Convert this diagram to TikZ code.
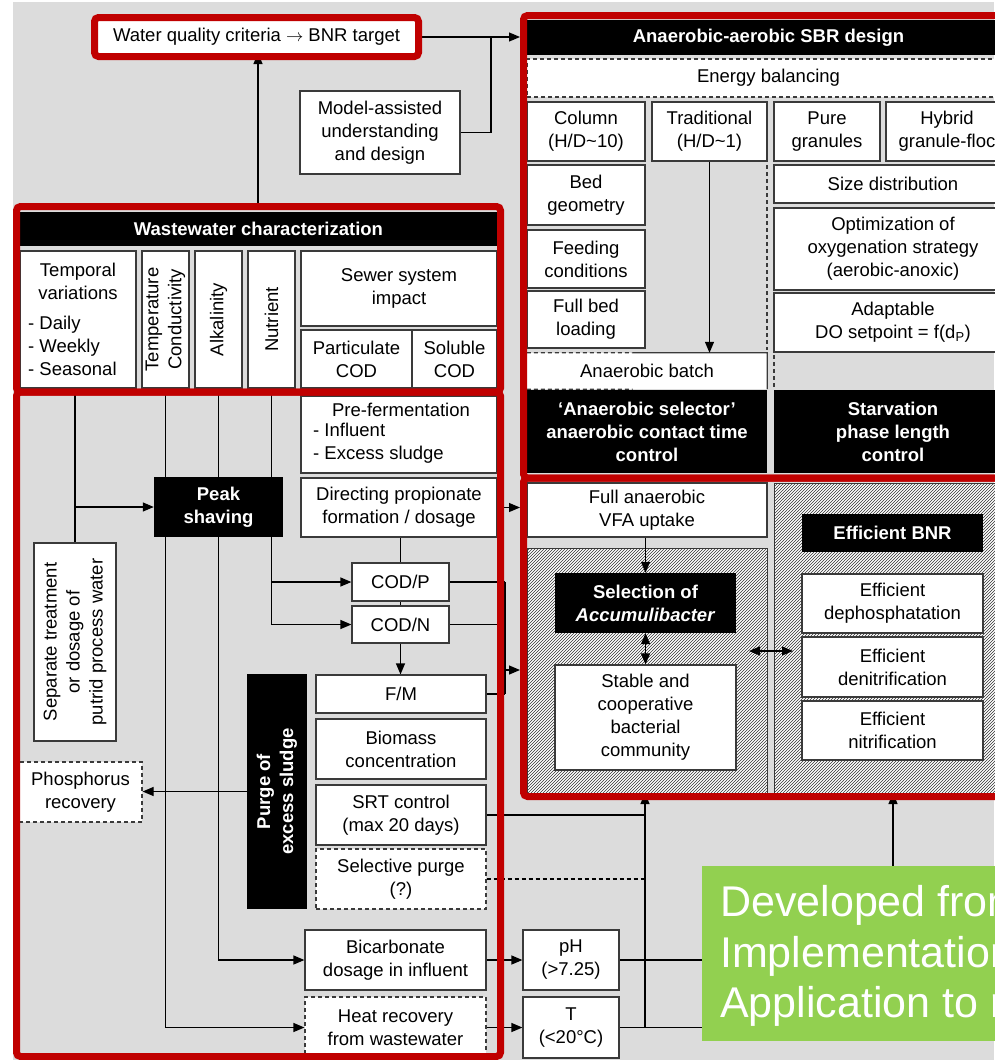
\documentclass[tikz,border=0pt]{standalone}
\usepackage{fontspec}
\setmainfont{Liberation Sans}
\usetikzlibrary{arrows.meta,positioning,calc,patterns}
\definecolor{BgGray}{HTML}{DCDCDC}
\definecolor{FrmRed}{HTML}{C00000}
\definecolor{BoxBord}{HTML}{3A3A3A}
\definecolor{NoteGreen}{HTML}{92D050}
\pgfdeclarelayer{bg}
\pgfdeclarelayer{lines}
\pgfsetlayers{bg,lines,main}
\tikzset{
  every picture/.append style={font=\fontsize{18.5}{23}\selectfont},
  sz/.style 2 args={minimum width=#1, minimum height=#2},
  cell/.style={rectangle, draw=BoxBord, fill=white, line width=1.2pt, align=center, inner sep=1pt},
  dcell/.style={cell, dash pattern=on 4pt off 3pt},
  bcell/.style={rectangle, fill=black, text=white, align=center, inner sep=1pt,
                font=\fontsize{18.5}{23}\selectfont\bfseries},
  txt/.style={inner sep=0pt, align=center},
  frm/.style={draw=FrmRed, line width=7pt, rounded corners=4pt},
  hatch/.style={draw=BoxBord, line width=1pt, fill=white,
                postaction={pattern=north east lines, pattern color=black!80}},
  link/.style={line width=1.2pt, draw=black},
  arr/.style={link, -{Triangle[length=11pt,width=9pt]}},
  darr/.style={link, {Triangle[length=11pt,width=9pt]}-{Triangle[length=11pt,width=9pt]}},
  dsh/.style={dash pattern=on 4pt off 3pt},
}

\begin{document}
\begin{tikzpicture}[x=1pt,y=-1pt]
\useasboundingbox (0,0) rectangle (994,1060);
\begin{pgfonlayer}{bg}
  \fill[BgGray] (13,2) rectangle (994,1060);
\end{pgfonlayer}

% fixed points: frame edges and line junctions
\coordinate (sbrL) at (520,0);
\coordinate (mj) at (491,37);
\coordinate (wwtop) at (258,203);
\coordinate (bus) at (505,670);
\coordinate (upA) at (645,793);
\coordinate (upB) at (893,793);
\coordinate (bnrL) at (749,651);
\coordinate (bnrR) at (793,651);

% ======================= top row =================================================
\node[cell, draw=FrmRed, line width=7pt, rounded corners=4pt, sz={324}{39}] (wq) at (256.5,37)
  {Water quality criteria $\rightarrow$ BNR target};
\node[cell, sz={160}{83}] (mad) at (380,132.5) {Model-assisted\\understanding\\and design};

% ======================= SBR design (upper right) ================================
\node[bcell, sz={483}{35}] (sbr) at (768.5,37.5) {Anaerobic-aerobic SBR design};
\node[dcell, sz={483}{38}] (eb) at (768.5,78) {Energy balancing};
\node[cell, sz={118}{59}] (col) at (586,131.5) {Column\\(H/D\textasciitilde10)};
\node[cell, sz={115}{59}] (trad) at (709.5,131.5) {Traditional\\(H/D\textasciitilde1)};
\node[cell, sz={106}{59}] (pure) at (827,131.5) {Pure\\granules};
\node[cell, sz={122}{59}] (hyb) at (947,131.5) {Hybrid\\granule-floc};
\node[cell, sz={118}{60}] (bed) at (586,195) {Bed\\geometry};
\node[cell, sz={118}{58}] (feed) at (586,259) {Feeding\\conditions};
\node[cell, sz={118}{57}] (fbl) at (586,319.5) {Full bed\\loading};
\node[fill=white, sz={240}{36}, inner sep=1pt] (anb) at (647,371) {Anaerobic batch};
\draw[line width=1.2pt, draw=BoxBord] ($(anb.north west)!0.44!(anb.north east)$) -- (anb.north east) -- (anb.south east);
\draw[line width=1.2pt, draw=BoxBord, dsh] (anb.north west) -- ($(anb.north west)!0.44!(anb.north east)$);
\draw[line width=1.2pt, draw=BoxBord, dsh] (anb.south west) -- ($(anb.south west)!0.44!(anb.south east)$);
\node[bcell, sz={240}{83}] (asel) at (647,431.5) {`Anaerobic selector'\\anaerobic contact time\\control};
\node[cell, sz={238}{38}] (sd) at (893,184) {Size distribution};
\node[cell, sz={238}{82}] (oxy) at (893,249) {Optimization of\\oxygenation strategy\\(aerobic-anoxic)};
\node[cell, sz={238}{59}] (dosp) at (893,322.5) {Adaptable\\DO setpoint = f(d\textsubscript{P})};
\node[bcell, sz={238}{83}] (starv) at (893,431.5) {Starvation\\phase length\\control};
\draw[line width=1.2pt, draw=BoxBord, dsh] (767,165) -- (767,350);
\draw[line width=1.2pt, draw=BoxBord, dsh] (774,355) -- (774,389);
\draw[arr] (trad.south) -- (trad.south |- anb.north);

% ======================= SBR outcome (lower right) ===============================
\node[cell, sz={240}{54}] (vfa) at (647,510) {Full anaerobic\\VFA uptake};
\node[hatch, sz={240}{245}] (hatL) at (647,670.5) {};
\node[hatch, sz={238}{310}] (hatR) at (893,638) {};
\node[bcell, sz={181}{60}] (acc) at (645.5,603) {Selection of\\\textit{Accumulibacter}};
\node[cell, sz={181}{105}] (stab) at (645.5,717.5) {Stable and\\cooperative\\bacterial\\community};
\node[bcell, sz={181}{38}] (ebnr) at (892.5,533) {Efficient BNR};
\node[cell, sz={181}{59}] (edp) at (892.5,603.5) {Efficient\\dephosphatation};
\node[cell, sz={181}{60}] (edn) at (892.5,667) {Efficient\\denitrification};
\node[cell, sz={181}{59}] (enit) at (892.5,730.5) {Efficient\\nitrification};
\draw[arr] (acc.north |- vfa.south) -- (acc.north);
\draw[darr] (acc.south) -- (stab.north);
\draw[darr] (bnrL) -- (bnrR);

% ======================= wastewater characterization ============================
\node[bcell, sz={477}{34}] (wwc) at (258.5,229) {Wastewater characterization};
\node[cell, sz={116}{137}] (tv) at (78,319.5) {};
\node[txt] (tvT) at (78,281) {Temporal\\variations};
\node[txt, align=left, anchor=west] (tvL) at (28,345.5) {- Daily\\- Weekly\\- Seasonal};
\node[cell, sz={47}{137}] (tc) at (165.5,319.5) {};
\node[txt, rotate=90] (tcT) at (tc) {Temperature\\Conductivity};
\node[cell, sz={47}{137}] (alk) at (218.5,319.5) {};
\node[txt, rotate=90] (alkT) at (alk) {Alkalinity};
\node[cell, sz={47}{137}] (nut) at (271.5,319.5) {};
\node[txt, rotate=90] (nutT) at (nut) {Nutrient};
\node[cell, sz={196}{75}] (sew) at (399,288.5) {Sewer system\\impact};
\node[cell, sz={111}{58}] (pcod) at (356.5,359) {Particulate\\COD};
\node[cell, sz={85}{58}] (scod) at (454.5,359) {Soluble\\COD};

% ======================= operation (lower left) ==================================
\node[cell, sz={196}{77}] (pf) at (399,434.5) {};
\node[txt] (pfT) at (401,410) {Pre-fermentation};
\node[txt, align=left, anchor=west] (pfL) at (313,443.5) {- Influent\\- Excess sludge};
\node[cell, sz={196}{59}] (dir) at (399,507.5) {Directing propionate\\formation / dosage};
\node[bcell, sz={129}{60}] (peak) at (218.5,507) {Peak\\shaving};
\node[cell, sz={82}{198}] (sep) at (75,642) {};
\node[txt, rotate=90] (sepT) at (sep) {Separate treatment\\or dosage of\\putrid process water};
\node[cell, sz={97}{38}] (codp) at (400.5,582) {COD/P};
\node[cell, sz={97}{37}] (codn) at (400.5,624.5) {COD/N};
\node[cell, sz={170}{38}] (fm) at (401,694) {F/M};
\node[cell, sz={170}{60}] (bio) at (401,749) {Biomass\\concentration};
\node[cell, sz={170}{60}] (srt) at (401,815) {SRT control\\(max 20 days)};
\node[dcell, sz={170}{60}] (spur) at (401,879) {Selective purge\\(?)};
\node[bcell, sz={60}{235}] (purge) at (277,791.5) {};
\node[txt, rotate=90, text=white, font=\fontsize{18.5}{23}\selectfont\bfseries] (purgeT) at (purge) {Purge of\\excess sludge};
\node[dcell, sz={123}{60}] (phos) at (80.5,792) {Phosphorus\\recovery};
\node[cell, sz={181}{60}] (bic) at (395.5,960) {Bicarbonate\\dosage in influent};
\node[dcell, sz={181}{61}] (heat) at (395.5,1027.5) {Heat recovery\\from wastewater};
\node[cell, sz={96}{60}] (ph) at (571,960) {pH\\(>7.25)};
\node[cell, sz={96}{61}] (tt) at (571,1027.5) {T\\(<20°C)};

% ======================= note ===================================================
\node[fill=NoteGreen, sz={308}{175}, inner sep=0pt] (note) at (856,953.5) {};
\node[txt, align=left, anchor=west, text=white, font=\fontsize{43}{50.5}\selectfont] (noteT) at (720,956)
  {Developed from\\Implementation\\Application to r};

% ======================= red frames =============================================
\draw[frm] (523.5,15.5) rectangle (1014,478);
\draw[frm] (523.5,478) rectangle (1014,796.5);
\draw[frm] (16.5,206.5) rectangle (500.5,392);
\draw[frm] (16.5,392) rectangle (500.5,1056.5);

% ======================= connectors (behind boxes) ==============================
\begin{pgfonlayer}{lines}
  % design inputs
  \draw[arr] (wq.east) -- (wq.east -| sbrL);
  \draw[link] (mad.east) -| (mj);
  \draw[arr] (wwtop) -- ($(wwtop |- wq.south)+(0,-7)$);
  % characterization feeds operation
  \draw[link] (tv.south -| sep.north) -- (sep.north);
  \draw[arr] (sep.north |- peak.west) -- (peak.west);
  \draw[arr] (tc.south) |- (heat.west);
  \draw[arr] (alk.south) |- (bic.west);
  \draw[arr] (nut.south) |- (codn.west);
  \draw[arr] (nut.south |- codp.west) -- (codp.west);
  % ratios chain
  \draw[link] (codp.north |- dir.south) -- (codp.north);
  \draw[link] (codp.south) -- (codn.north);
  \draw[arr] (codn.south) -- (codn.south |- fm.north);
  \draw[arr] (dir.east) -- (dir.east -| sbrL);
  \draw[link] (codp.east) -- (codp.east -| bus);
  \draw[link] (codn.east) -- (codn.east -| bus);
  \draw[link] (fm.east) -- (fm.east -| bus);
  \draw[link] (codp.east -| bus) -- (fm.east -| bus);
  \draw[arr] (bus) -- (bus -| sbrL);
  % sludge purge
  \draw[arr] (purge.west) -- (purge.west -| phos.east);
  \draw[link] (srt.east) -- (srt.east -| upA);
  \draw[link, dsh] (spur.east) -- (spur.east -| upA);
  % pH and temperature
  \draw[arr] (bic.east) -- (ph.west);
  \draw[arr] (heat.east) -- (tt.west);
  \draw[link] (ph.east) -- (ph.east -| upB);
  \draw[link] (tt.east) -- (tt.east -| upB);
  \draw[arr] (tt.east -| upA) -- (upA);
  \draw[arr] (tt.east -| upB) -- (upB);
\end{pgfonlayer}

\end{tikzpicture}
\end{document}
